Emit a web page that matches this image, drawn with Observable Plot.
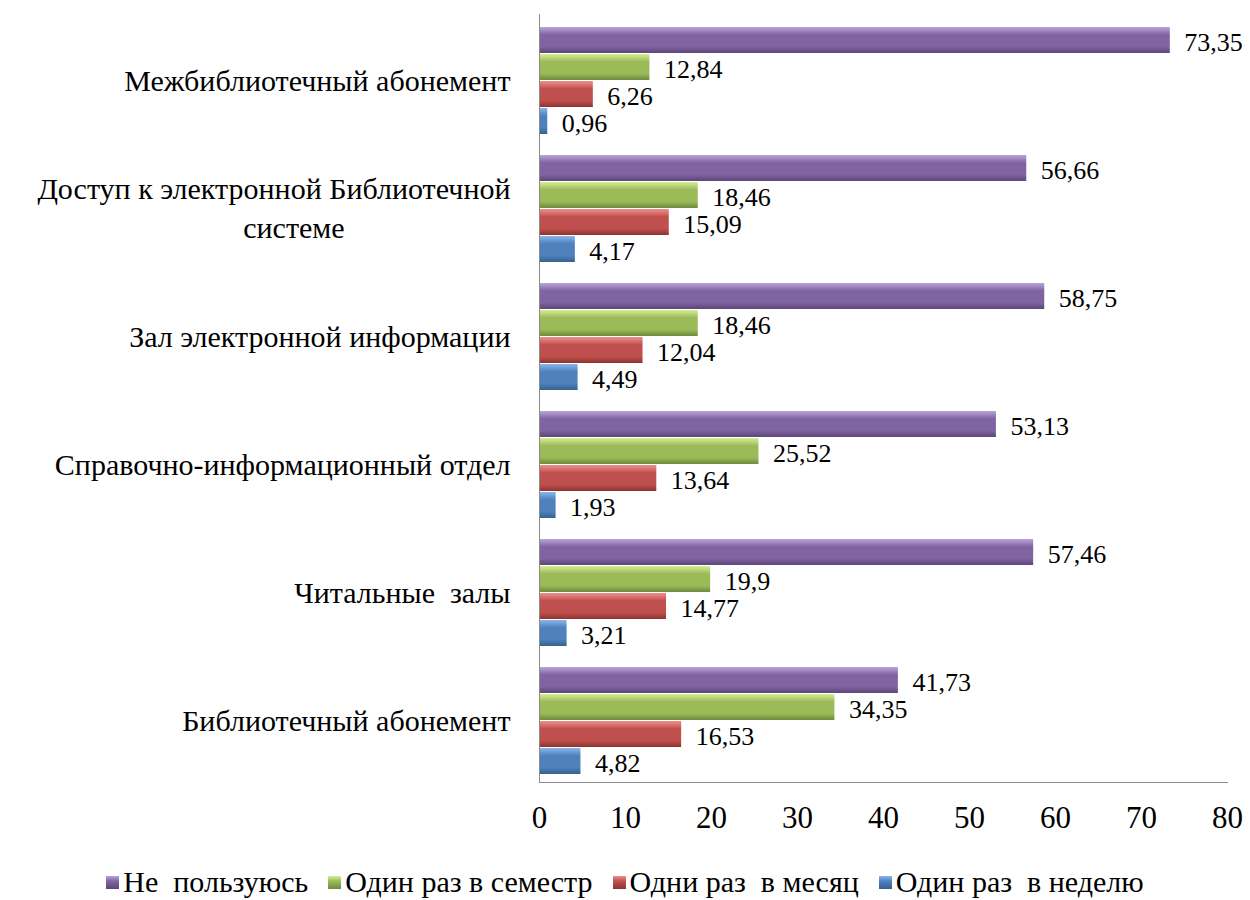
<!DOCTYPE html>
<html><head><meta charset="utf-8">
<script src="https://cdn.jsdelivr.net/npm/d3@7"></script>
<script src="https://cdn.jsdelivr.net/npm/@observablehq/plot@0.6"></script>
<style>
body{margin:0;background:#fff;font-family:"Liberation Serif",serif;}
#legend{display:flex;justify-content:center;align-items:center;font-size:30px;color:#000;margin-top:16px;height:32px;font-family:"Liberation Serif",serif;}
#legend .item{display:flex;align-items:center;margin:0 10px;}
#legend .sw{width:13px;height:13px;margin-right:4px;}
</style></head><body>
<div id="chart"></div><div id="legend"></div>
<script>
const categories = [
  "Межбиблиотечный абонемент",
  "Доступ к электронной Библиотечной\nсистеме",
  "Зал электронной информации",
  "Справочно-информационный отдел",
  "Читальные\u00a0 залы",
  "Библиотечный абонемент"
];
const series = ["Не\u00a0 пользуюсь", "Один раз в семестр", "Одни раз\u00a0 в месяц", "Один раз\u00a0 в неделю"];
const nePolzuyus   = [73.35, 56.66, 58.75, 53.13, 57.46, 41.73];
const razVSemestr  = [12.84, 18.46, 18.46, 25.52, 19.9, 34.35];
const razVMesyac   = [6.26, 15.09, 12.04, 13.64, 14.77, 16.53];
const razVNedelyu  = [0.96, 4.17, 4.49, 1.93, 3.21, 4.82];
const xTicks = [0, 10, 20, 30, 40, 50, 60, 70, 80];
const baseColors = ["#8064a2", "#9bbb59", "#c0504d", "#4f81bd"];
const lightColors = ["#b9a3dc", "#d4ef95", "#f08f8b", "#8bb6ec"];
const darkColors = ["#5c4679", "#71893d", "#8e3431", "#35608f"];

const seriesValues = [nePolzuyus, razVSemestr, razVMesyac, razVNedelyu];
const data = [];
categories.forEach((c, i) => series.forEach((s, j) => data.push({cat: c, series: s, value: seriesValues[j][i]})));
const fmt = v => String(v).replace(".", ",");

const chart = Plot.plot({
  width: 1250, height: 850,
  marginTop: 12, marginBottom: 67, marginLeft: 539, marginRight: 23,
  style: {fontFamily: "Liberation Serif", fontSize: "24px", color: "#000", background: "#fff"},
  x: {domain: [0, 80], axis: null},
  y: {domain: series, axis: null, paddingInner: 0.05, paddingOuter: 0.35, align: 0.6},
  fy: {domain: categories, padding: 0, axis: null},
  color: {domain: series, range: series.map((s, i) => `url(#grad${i})`)},
  marks: [
    Plot.barX(data, {x: "value", y: "series", fy: "cat", fill: "series"}),
    Plot.text(data, {x: "value", y: "series", fy: "cat", text: d => fmt(d.value), textAnchor: "start", dx: 14, dy: 2, fontSize: 26, fill: "#000"}),
    Plot.ruleX([0], {stroke: "#8c8c8c", strokeWidth: 1}),
    Plot.frame({anchor: "bottom", fy: categories[categories.length - 1], stroke: "#8c8c8c"}),
    Plot.axisFy({anchor: "left", tickSize: 0, tickPadding: 29, label: null, fontSize: 30, lineHeight: 1.3}),
    Plot.axisX(xTicks, {anchor: "bottom", tickSize: 0, tickPadding: 23, label: null, fontSize: 31, tickFormat: d => String(d)})
  ]
});

// gradients for bevelled bars
const ns = "http://www.w3.org/2000/svg";
const defs = document.createElementNS(ns, "defs");
baseColors.forEach((c, i) => {
  const g = document.createElementNS(ns, "linearGradient");
  g.setAttribute("id", `grad${i}`);
  g.setAttribute("x1", "0"); g.setAttribute("y1", "0"); g.setAttribute("x2", "0"); g.setAttribute("y2", "1");
  [[0, lightColors[i]], [0.3, c], [0.75, c], [1, darkColors[i]]].forEach(([o, col]) => {
    const st = document.createElementNS(ns, "stop");
    st.setAttribute("offset", o); st.setAttribute("stop-color", col);
    g.appendChild(st);
  });
  defs.appendChild(g);
});
chart.insertBefore(defs, chart.firstChild);
document.getElementById("chart").appendChild(chart);

const legend = document.getElementById("legend");
series.forEach((s, i) => {
  const it = document.createElement("div");
  it.className = "item";
  const sw = document.createElement("div");
  sw.className = "sw";
  sw.style.background = `linear-gradient(${lightColors[i]}, ${baseColors[i]} 40%, ${darkColors[i]})`;
  const tx = document.createElement("span");
  tx.textContent = s;
  it.appendChild(sw); it.appendChild(tx);
  legend.appendChild(it);
});

// place the wrapped second line of the long category label under its first line
document.fonts.ready.then(() => {
  chart.querySelectorAll("text").forEach(t => {
    const ts = t.querySelectorAll("tspan");
    if (ts.length === 2) {
      const w = ts[0].getComputedTextLength();
      ts[1].setAttribute("text-anchor", "middle");
      ts[1].setAttribute("x", -w / 2 + 20);
    }
  });
});
</script></body></html>
